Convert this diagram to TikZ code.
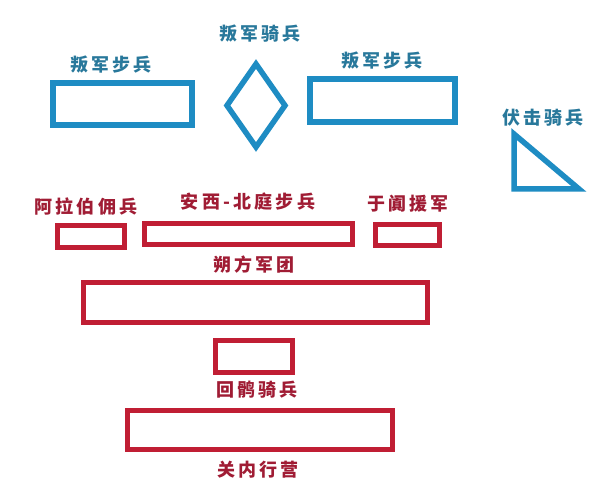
\documentclass[tikz,border=0pt]{standalone}
\usepackage{fontspec}
\newfontfamily\cjk[LetterSpace=18]{Noto Sans CJK SC}
\usetikzlibrary{calc,positioning}
\definecolor{junblue}{RGB}{30,140,195}
\definecolor{junred}{RGB}{192,30,52}
\definecolor{txtblue}{RGB}{40,120,155}
\definecolor{txtred}{RGB}{160,28,52}
\tikzset{
    bluebox/.style={draw=junblue,line width=5.5pt},
    redbox/.style={draw=junred,line width=5pt},
    bluelabel/.style={text=txtblue,inner sep=0pt,font=\cjk\bfseries\fontsize{18}{18}\selectfont},
    redlabel/.style={text=txtred,inner sep=0pt,font=\cjk\bfseries\fontsize{18}{18}\selectfont}
}
\begin{document}
\begin{tikzpicture}[x=1pt,y=-1pt]
    \useasboundingbox[fill=white] (0,0) rectangle (598,500);
    % 蓝色: 叛军
    \draw[bluebox] (53,83) rectangle (192,125);
    \node[bluelabel] (pbl) at (111,65) {叛军步兵};
    \draw[bluebox] (256,64) -- (285,105.5) -- (256,147) -- (227,105.5) -- cycle;
    \node[bluelabel] (pqb) at (260,34) {叛军骑兵};
    \draw[bluebox] (310,79) rectangle (455,122);
    \node[bluelabel] (pbr) at (382,61) {叛军步兵};
    \draw[bluebox] (514,134) -- (514,189) -- (579,189) -- cycle;
    \node[bluelabel] (fjq) at (543,118) {伏击骑兵};
    % 红色: 唐军
    \draw[redbox] (57.5,225.5) rectangle (124.5,247.5);
    \node[redlabel] (alb) at (86,207) {阿拉伯佣兵};
    \draw[redbox] (144.5,223.5) rectangle (352.5,244.5);
    \node[redlabel] (axb) at (248,202) {安西-北庭步兵};
    \draw[redbox] (375.5,224.5) rectangle (439.5,245.5);
    \node[redlabel] (ytj) at (408,204) {于阗援军};
    \node[redlabel] (sfj) at (254,265) {朔方军团};
    \draw[redbox] (83.5,282.5) rectangle (427.5,322.5);
    \draw[redbox] (215.5,340.5) rectangle (292.5,372.5);
    \node[redlabel] (hhq) at (257,390) {回鹘骑兵};
    \draw[redbox] (127.5,410.5) rectangle (392.5,449.5);
    \node[redlabel] (gnx) at (258,470) {关内行营};
\end{tikzpicture}
\end{document}
